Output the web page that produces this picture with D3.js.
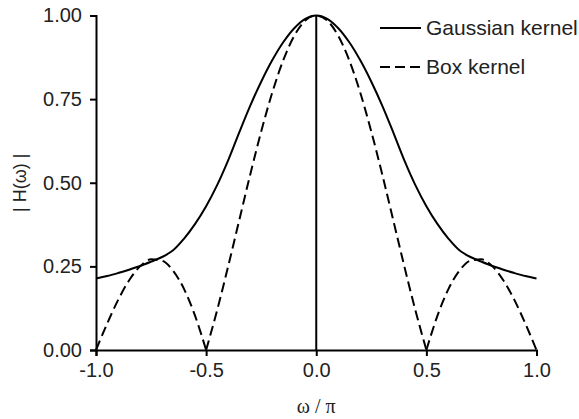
<!DOCTYPE html>
<html lang="en">
    <head>
       <meta charset="utf-8">
       <script src="https://d3js.org/d3.v7.min.js"></script>
       <style>
           body { margin: 0; background: #fff; }
           text { font-family: "Liberation Sans", Arial, sans-serif; fill: #222; }
       </style>
    </head>
    <body>

        <script>
            var width  = 579;
            var height = 419;

            // frequency axis, omega / pi
            var omega = [-1.0, -0.95, -0.9, -0.85, -0.8, -0.75, -0.7, -0.65, -0.6, -0.55,
                         -0.5, -0.45, -0.4, -0.35, -0.3, -0.25, -0.2, -0.15, -0.1, -0.05,
                          0.0,  0.05,  0.1,  0.15,  0.2,  0.25,  0.3,  0.35,  0.4,  0.45,
                          0.5,  0.55,  0.6,  0.65,  0.7,  0.75,  0.8,  0.85,  0.9,  0.95, 1.0];

            // |H(w)|
            var gauss = [0.214, 0.221, 0.230, 0.240, 0.251, 0.264, 0.278, 0.298, 0.333, 0.377,
                         0.430, 0.493, 0.567, 0.650, 0.730, 0.802, 0.866, 0.920, 0.962, 0.990,
                         1.000,
                         0.990, 0.962, 0.920, 0.866, 0.802, 0.730, 0.650, 0.567, 0.493, 0.430,
                         0.377, 0.333, 0.298, 0.278, 0.264, 0.251, 0.240, 0.230, 0.221, 0.214];

            var box = [0.000, 0.078, 0.149, 0.208, 0.250, 0.271, 0.267, 0.237, 0.182, 0.102,
                       0.000, 0.119, 0.250, 0.387, 0.524, 0.653, 0.769, 0.866, 0.939, 0.985,
                       1.000,
                       0.985, 0.939, 0.866, 0.769, 0.653, 0.524, 0.387, 0.250, 0.119, 0.000,
                       0.102, 0.182, 0.237, 0.267, 0.271, 0.250, 0.208, 0.149, 0.078, 0.000];

            var x_ticks = [-1.0, -0.5, 0.0, 0.5, 1.0];
            var y_ticks = [0.00, 0.25, 0.50, 0.75, 1.00];

            var series_names = ["Gaussian kernel", "Box kernel"];

            // plot box (window.top is taken, so no bare "top")
            var plot_left = 96, plot_right = 536.5, plot_top = 15.5, plot_bottom = 350;

            var x = d3.scaleLinear().domain([-1, 1]).range([plot_left, plot_right]);
            var y = d3.scaleLinear().domain([0, 1]).range([plot_bottom, plot_top]);

            var svg = d3.select("body")
                        .append("svg")
                        .attr("id", "canvas")
                        .attr("width", width)
                        .attr("height", height);

            // axes
            svg.append("g")
               .attr("transform", "translate(0," + plot_bottom + ")")
               .call(d3.axisBottom(x).tickValues(x_ticks).tickSizeOuter(0).tickSize(6).tickPadding(7)
                       .tickFormat(function(d) { return d.toFixed(1); }));

            svg.append("g")
               .attr("transform", "translate(" + plot_left + ",0)")
               .call(d3.axisLeft(y).tickValues(y_ticks).tickSizeOuter(0).tickSize(6).tickPadding(8)
                       .tickFormat(function(d) { return d.toFixed(2); }));

            svg.selectAll(".domain, .tick line")
               .attr("stroke", "#000")
               .attr("stroke-width", 2);
            svg.selectAll(".tick text")
               .attr("fill", "#222")
               .style("font-size", "20px")
               .style("font-family", "'Liberation Sans', Arial, sans-serif");

            // axis titles
            svg.append("text")
               .attr("x", x(0))
               .attr("y", 413)
               .attr("text-anchor", "middle")
               .style("font-family", "'Liberation Serif', 'Times New Roman', serif")
               .style("font-size", "20px")
               .text("ω / π");

            svg.append("text")
               .attr("transform", "translate(26," + y(0.5) + ") rotate(-90)")
               .attr("text-anchor", "middle")
               .style("font-size", "18px")
               .text("| H(ω) |");

            // vertical line at zero
            svg.append("line")
               .attr("x1", x(0)).attr("x2", x(0))
               .attr("y1", y(0)).attr("y2", y(1))
               .attr("stroke", "#000")
               .attr("stroke-width", 2);

            var line = d3.line()
                         .x(function(d) { return x(d[0]); })
                         .y(function(d) { return y(d[1]); })
                         .curve(d3.curveMonotoneX);

            // gaussian
            var gpts = omega.map(function(w, i) { return [w, gauss[i]]; });
            svg.append("path")
               .attr("d", line.curve(d3.curveCatmullRom.alpha(0.5))(gpts))
               .attr("fill", "none")
               .attr("stroke", "#000")
               .attr("stroke-width", 2);
            line.curve(d3.curveMonotoneX);

            // box kernel: split into lobes at its zeros so the cusps stay sharp
            var lobes = [];
            var cur = [];
            omega.forEach(function(w, i) {
                cur.push([w, box[i]]);
                if (box[i] === 0 && cur.length > 1) {
                    lobes.push(cur);
                    cur = [[w, box[i]]];
                }
            });
            var dash = "10,5";
            lobes.forEach(function(l) {
                svg.append("path")
                   .attr("d", line(l))
                   .attr("fill", "none")
                   .attr("stroke", "#000")
                   .attr("stroke-width", 2)
                   .attr("stroke-dasharray", dash);
            });

            // legend
            var legend_y = [28, 67];
            series_names.forEach(function(name, i) {
                svg.append("line")
                   .attr("x1", 380).attr("x2", 421)
                   .attr("y1", legend_y[i]).attr("y2", legend_y[i])
                   .attr("stroke", "#000")
                   .attr("stroke-width", 2)
                   .attr("stroke-dasharray", i == 1 ? dash : null);
                svg.append("text")
                   .attr("x", 426)
                   .attr("y", legend_y[i] + 7)
                   .style("font-size", "21px")
                   .text(name);
            });
        </script>

    </body>
</html>
